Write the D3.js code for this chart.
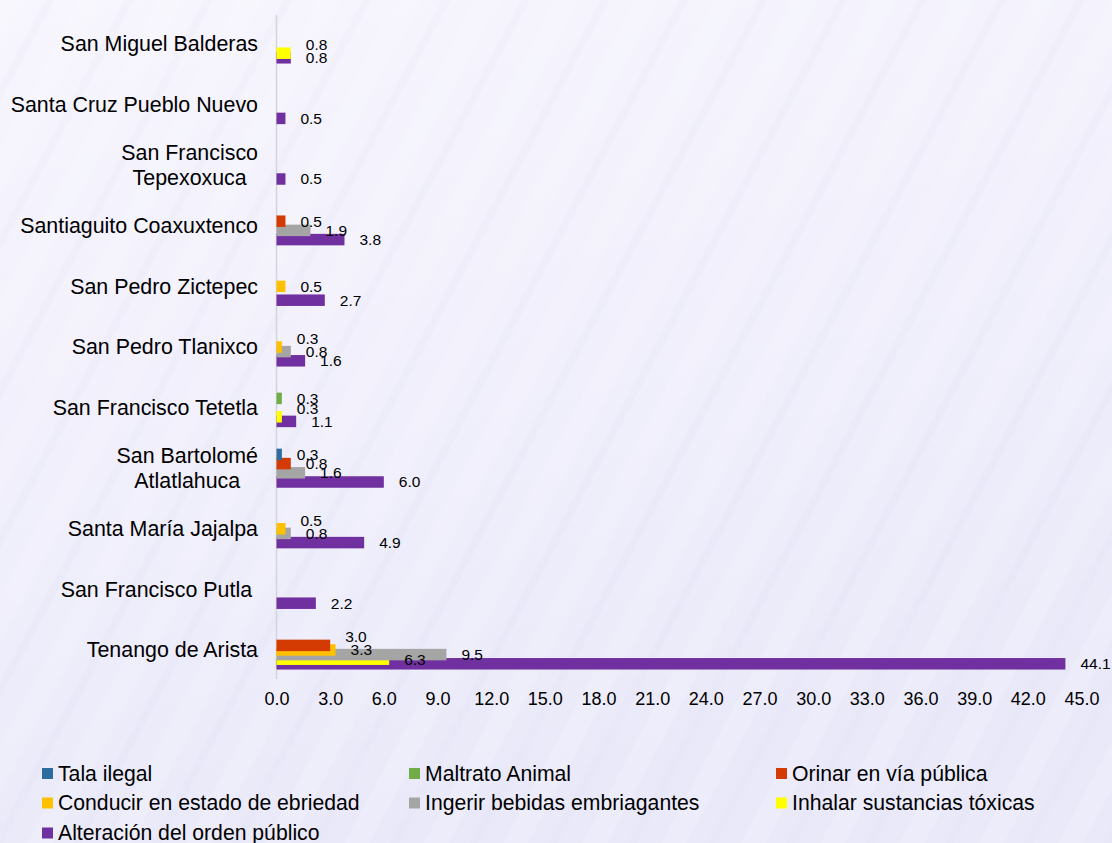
<!DOCTYPE html>
<html>
<head>
<meta charset="utf-8">
<script src="https://cdn.jsdelivr.net/npm/d3@7"></script>
<style>
  html, body { margin: 0; padding: 0; }
  svg { display: block; font-family: "Liberation Sans", Arial, sans-serif; }
</style>
</head>
<body>
<svg width="1112" height="843"></svg>
<script>
var categories = [
  "San Miguel Balderas",
  "Santa Cruz Pueblo Nuevo",
  "San Francisco\nTepexoxuca",
  "Santiaguito Coaxuxtenco",
  "San Pedro Zictepec",
  "San Pedro Tlanixco",
  "San Francisco Tetetla",
  "San Bartolomé\nAtlatlahuca",
  "Santa María Jajalpa",
  "San Francisco Putla ",
  "Tenango de Arista"
];

var seriesNames = [
  "Tala ilegal",
  "Maltrato Animal",
  "Orinar en vía pública",
  "Conducir en estado de ebriedad",
  "Ingerir bebidas embriagantes",
  "Inhalar sustancias tóxicas",
  "Alteración del orden público"
];

var talaIlegal   = [0, 0, 0, 0, 0, 0, 0, 0.3, 0, 0, 0];
var maltrato     = [0, 0, 0, 0, 0, 0, 0.3, 0, 0, 0, 0];
var orinar       = [0, 0, 0, 0.5, 0, 0, 0, 0.8, 0, 0, 3.0];
var conducir     = [0, 0, 0, 0, 0.5, 0.3, 0, 0, 0.5, 0, 3.3];
var ingerir      = [0, 0, 0, 1.9, 0, 0.8, 0, 1.6, 0.8, 0, 9.5];
var inhalar      = [0.8, 0, 0, 0, 0, 0, 0.3, 0, 0, 0, 6.3];
var alteracion   = [0.8, 0.5, 0.5, 3.8, 2.7, 1.6, 1.1, 6.0, 4.9, 2.2, 44.1];

var xTicks = [0, 3, 6, 9, 12, 15, 18, 21, 24, 27, 30, 33, 36, 39, 42, 45];

var colors = ["#2e6b9e", "#70ad47", "#d33b02", "#ffc000", "#a5a5a5", "#ffff00", "#7030a0"];

var values = [talaIlegal, maltrato, orinar, conducir, ingerir, inhalar, alteracion];

var svg = d3.select("svg");

// background
var defs = svg.append("defs");
var grad = defs.append("linearGradient")
    .attr("id", "bg").attr("x1", 0).attr("y1", 0).attr("x2", 0.3).attr("y2", 1);
grad.append("stop").attr("offset", "0%").attr("stop-color", "#f7f6fe");
grad.append("stop").attr("offset", "100%").attr("stop-color", "#eae9f9");
var pat = defs.append("pattern")
    .attr("id", "streaks").attr("width", 70).attr("height", 70)
    .attr("patternUnits", "userSpaceOnUse")
    .attr("patternTransform", "rotate(28)");
pat.append("rect").attr("width", 22).attr("height", 70)
    .attr("fill", "#ffffff").attr("opacity", 0.13);
pat.append("rect").attr("x", 40).attr("width", 8).attr("height", 70)
    .attr("fill", "#dcdaf2").attr("opacity", 0.12);

svg.append("rect").attr("width", 1112).attr("height", 843).attr("fill", "url(#bg)");
svg.append("rect").attr("width", 1112).attr("height", 843).attr("fill", "url(#streaks)");

var x = d3.scaleLinear().domain([0, 45]).range([276.5, 1081.5]);
var y = d3.scaleBand().domain(categories).range([13.7, 680.3]).padding(0);
var offset = d3.scalePoint().domain(d3.range(seriesNames.length)).range([-13.8, 13.8]);
var barH = 11.5;

// vertical axis line
svg.append("line")
    .attr("x1", x(0)).attr("x2", x(0))
    .attr("y1", 15).attr("y2", 679)
    .attr("stroke", "#d4d4dc").attr("stroke-width", 1.5);

// x axis (labels only)
var xAxis = svg.append("g")
    .attr("transform", "translate(0,692)")
    .call(d3.axisBottom(x).tickValues(xTicks).tickFormat(d3.format(".1f")).tickSize(0).tickPadding(0));
xAxis.select(".domain").remove();
xAxis.selectAll("text")
    .attr("font-size", 18).attr("fill", "#000").attr("dy", "0.71em")
    .attr("font-family", "Liberation Sans, Arial, sans-serif");

// bars: earlier series drawn on top
var bars = svg.append("g");
for (var s = seriesNames.length - 1; s >= 0; s--) {
  bars.append("g").selectAll("rect")
    .data(categories.map(function(c, i) { return {cat: c, v: values[s][i], s: s}; })
      .filter(function(d) { return d.v > 0; }))
    .enter().append("rect")
      .attr("x", x(0))
      .attr("y", function(d) { return y(d.cat) + y.bandwidth() / 2 + offset(d.s) - barH / 2; })
      .attr("width", function(d) { return x(d.v) - x(0); })
      .attr("height", barH)
      .attr("fill", colors[s]);
}

// data labels, nudged up when they sit on top of the label below
var labels = svg.append("g").attr("font-size", 15.5).attr("fill", "#000");
categories.forEach(function(c, i) {
  var placed = [];
  for (var s = seriesNames.length - 1; s >= 0; s--) {
    var v = values[s][i];
    if (!(v > 0)) continue;
    var cy = y(c) + y.bandwidth() / 2 + offset(s);
    var t = labels.append("text")
        .attr("x", x(v) + 15)
        .attr("dy", "0.35em")
        .text(d3.format(".1f")(v));
    var box = {x0: x(v) + 15, x1: x(v) + 15 + t.node().getComputedTextLength(), y: cy};
    for (var k = 0; k < 3; k++) {
      placed.forEach(function(p) {
        if (box.x0 < p.x1 && p.x0 < box.x1 && Math.abs(box.y - p.y) < 9) box.y = p.y - 13;
      });
    }
    t.attr("y", box.y);
    placed.push(box);
  }
});

// category labels
var catG = svg.append("g").attr("font-size", 21.4).attr("fill", "#000");
categories.forEach(function(c) {
  var lines = c.split("\n");
  var cy = y(c) + y.bandwidth() / 2;
  var t = catG.append("text").attr("style", "white-space: pre");
  var lh = 25.5;
  lines.forEach(function(line, j) {
    t.append("tspan")
      .attr("y", cy + (j - (lines.length - 1) / 2) * lh)
      .attr("dy", "0.35em")
      .text(line);
  });
  var w = d3.max(t.selectAll("tspan").nodes(), function(n) { return n.getComputedTextLength(); });
  if (lines.length > 1) {
    t.attr("text-anchor", "middle");
    t.selectAll("tspan").attr("x", 258 - w / 2);
  } else {
    t.attr("text-anchor", "end");
    t.selectAll("tspan").attr("x", 258);
  }
});

// legend
var legendPos = [[42, 773.5], [409, 773.5], [776, 773.5],
                 [42, 803], [409, 803], [776, 803],
                 [42, 833]];
var legend = svg.append("g").selectAll("g")
  .data(seriesNames)
  .enter().append("g")
    .attr("transform", function(d, i) { return "translate(" + legendPos[i][0] + "," + legendPos[i][1] + ")"; });
legend.append("rect")
    .attr("y", -5.5).attr("width", 11).attr("height", 11)
    .attr("fill", function(d, i) { return colors[i]; });
legend.append("text")
    .attr("x", 16).attr("dy", "0.35em")
    .attr("font-size", 21.2).attr("fill", "#000")
    .text(function(d) { return d; });
</script>
</body>
</html>
